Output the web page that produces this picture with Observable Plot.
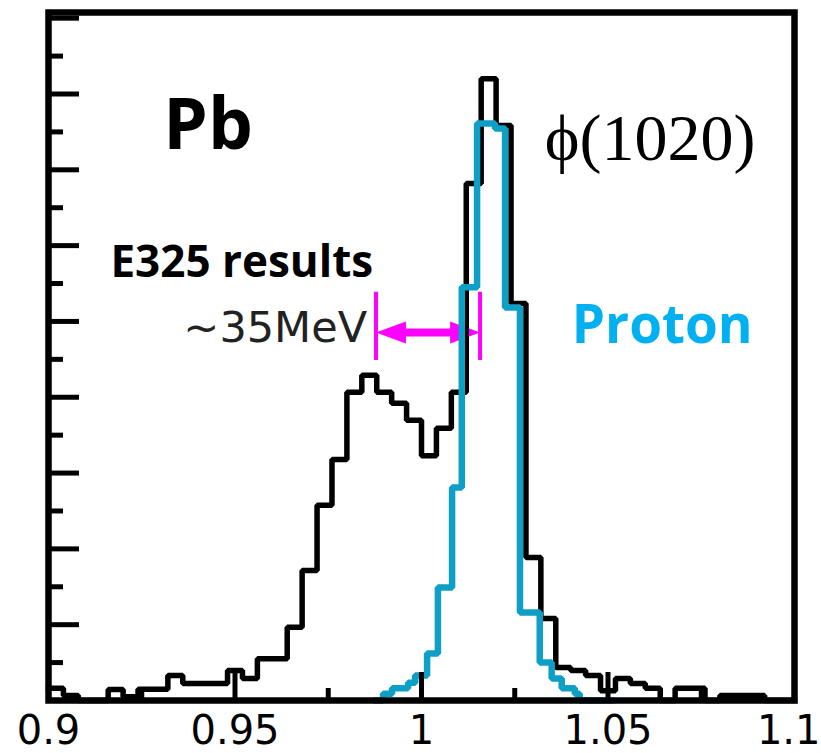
<!DOCTYPE html>
<html>
<head>
<meta charset="utf-8">
<script src="https://cdn.jsdelivr.net/npm/d3@7"></script>
<script src="https://cdn.jsdelivr.net/npm/@observablehq/plot@0.6"></script>
<style>
  html, body { margin: 0; padding: 0; background: #fff; }
  #chart { width: 821px; height: 753px; overflow: hidden; }
</style>
</head>
<body>
<div id="chart"></div>
<script>
// ---- Data ----
// Pb (E325) histogram: left bin edges (width 0.004 GeV) and counts
const pbEdges = [0.900,0.904,0.908,0.912,0.916,0.920,0.924,0.928,0.932,0.936,
                 0.940,0.944,0.948,0.952,0.956,0.960,0.964,0.968,0.972,0.976,
                 0.980,0.984,0.988,0.992,0.996,1.000,1.004,1.008,1.012,1.016,
                 1.020,1.024,1.028,1.032,1.036,1.040,1.044,1.048,1.052,1.056,
                 1.060,1.064,1.068,1.072,1.076,1.080,1.084,1.088,1.092,1.096];
const pbEnd = 1.100;
const pbCounts = [3.2,1.3,0,0,2.9,1,3,3,6.6,4.5,
                  4.5,4.5,7.9,5.8,11,11,19.3,34.3,51.5,63.6,
                  81.3,85.8,81.3,78.4,73.9,64.6,71.8,81.3,136.4,164,
                  151.7,104.7,37.7,21.6,8.7,7.9,6.6,2.6,5.8,4.5,
                  3.2,0,3.2,3.2,0,1.3,1.3,1.3,0,0];

// Proton histogram (overlay): left bin edges and counts
const protonEdges = [0.9870,0.9897,0.9921,0.9964,0.9983,1.0015,1.0044,1.0082,1.0108,
                     1.0149,1.0197,1.0224,1.0264,1.0317,1.0349,1.0376,1.0411,1.0424];
const protonEnd = 1.0518;
const protonCounts = [0,1.8,3.2,4.7,6.6,12.4,29.8,56.2,109,
                      152.2,150.9,103.7,23.2,10,5.8,3.2,1.8,0];

// Axis ticks
const xMajor = [0.9, 0.95, 1.0, 1.05, 1.1];
const xMinor = [0.925, 0.975, 1.025, 1.075];
const xTickLabels = ["0.9", "0.95", "1", "1.05", "1.1"];
const yMajor = [0, 20, 40, 60, 80, 100, 120, 140, 160, 180];
const yMinor = [10, 30, 50, 70, 90, 110, 130, 150, 170];

// Mass-shift annotation (~35 MeV): ends of the bracket
const shiftEnds = [0.9878, 1.0157];
const shiftLabel = "~35MeV";

// ---- Build tables ----
function stepTable(edges, counts, end) {
  const rows = edges.map((x, i) => ({x, y: counts[i]}));
  rows.push({x: end, y: counts[counts.length - 1]});
  return rows;
}
const pbRows = stepTable(pbEdges, pbCounts, pbEnd);
const protonRows = stepTable(protonEdges, protonCounts, protonEnd);

// filled arrow-head symbol (points up before rotation)
const arrowHead = {
  draw(context) {
    context.moveTo(0, -15);
    context.lineTo(11, 15);
    context.lineTo(-11, 15);
    context.closePath();
  }
};

const magenta = "#ff00ff";
const arrowY = 97.1;

const lastIdx = xMajor.length - 1;

const chart = Plot.plot({
  width: 821,
  height: 753,
  marginLeft: 48,
  marginRight: 27,
  marginTop: 12,
  marginBottom: 53,
  style: {background: "#fff", overflow: "hidden"},
  x: {domain: [0.9, 1.1]},
  y: {domain: [0, 181.5]},
  marks: [
    // mass-shift bracket
    Plot.ruleX(shiftEnds, {x: d => d, y1: 89.7, y2: 107.7, stroke: magenta, strokeWidth: 4}),
    Plot.link([shiftEnds], {x1: d => d[0] + 0.004, x2: d => d[1] - 0.004, y1: arrowY, y2: arrowY,
                            stroke: magenta, strokeWidth: 8}),
    Plot.dot([shiftEnds[0]], {x: d => d + 0.0040, y: arrowY, symbol: arrowHead, rotate: -90,
                              fill: magenta, stroke: "none"}),
    Plot.dot([shiftEnds[1]], {x: d => d - 0.0040, y: arrowY, symbol: arrowHead, rotate: 90,
                              fill: magenta, stroke: "none"}),
    // histograms
    Plot.line(pbRows, {x: "x", y: "y", curve: "step-after", stroke: "#000", strokeWidth: 5.5,
                       strokeLinejoin: "miter", strokeLinecap: "square"}),
    Plot.line(protonRows, {x: "x", y: "y", curve: "step-after", stroke: "#0e9fc6", strokeWidth: 6.5,
                           strokeLinejoin: "miter", strokeLinecap: "butt"}),
    Plot.frame({stroke: "#000", strokeWidth: 6.5}),
    // ticks (inward)
    Plot.axisX(xMajor, {tickSize: -28, strokeWidth: 5, tickFormat: () => "", label: null}),
    Plot.axisX(xMinor, {tickSize: -12, strokeWidth: 5, tickFormat: () => "", label: null}),
    Plot.axisX(xMajor.slice(0, lastIdx), {tickSize: 0, tickPadding: 15, tickFormat: (d, i) => xTickLabels[i],
                        fontSize: 40, fontFamily: "DejaVu Sans", fill: "#000", label: null}),
    Plot.axisX([xMajor[lastIdx]], {tickSize: 0, tickPadding: 15, tickFormat: () => xTickLabels[lastIdx],
                        textAnchor: "end", dx: 26,
                        fontSize: 40, fontFamily: "DejaVu Sans", fill: "#000", label: null}),
    Plot.axisY(yMajor, {tickSize: -31, strokeWidth: 5, tickFormat: () => "", label: null}),
    Plot.axisY(yMinor, {tickSize: -15, strokeWidth: 5, tickFormat: () => "", label: null}),
    // annotations
    Plot.text(["Pb"], {x: 0.93079, y: 145.6, text: d => d, textAnchor: "start", lineAnchor: "bottom",
                       fontFamily: "Open Sans", fontWeight: "bold", fontSize: 71, fill: "#000"}),
    Plot.text(["ϕ(1020)"], {x: 1.03307, y: 142.5, text: d => d, textAnchor: "start", lineAnchor: "bottom",
                       fontFamily: "Liberation Serif", fontSize: 66, fill: "#000"}),
    Plot.text(["E325 results"], {x: 0.91660, y: 111.6, text: d => d, textAnchor: "start", lineAnchor: "bottom",
                       fontFamily: "Open Sans", fontWeight: "bold", fontSize: 44, fill: "#000"}),
    Plot.text([shiftLabel], {x: 0.98541, y: 94.5, text: d => d, textAnchor: "end", lineAnchor: "bottom",
                       fontFamily: "DejaVu Sans", fontSize: 43, fill: "#222"}),
    Plot.text(["Proton"], {x: 1.04029, y: 94.2, text: d => d, textAnchor: "start", lineAnchor: "bottom",
                       fontFamily: "Open Sans", fontWeight: "bold", fontSize: 53, fill: "#00b0f0"})
  ]
});
document.getElementById("chart").appendChild(chart);
</script>
</body>
</html>
